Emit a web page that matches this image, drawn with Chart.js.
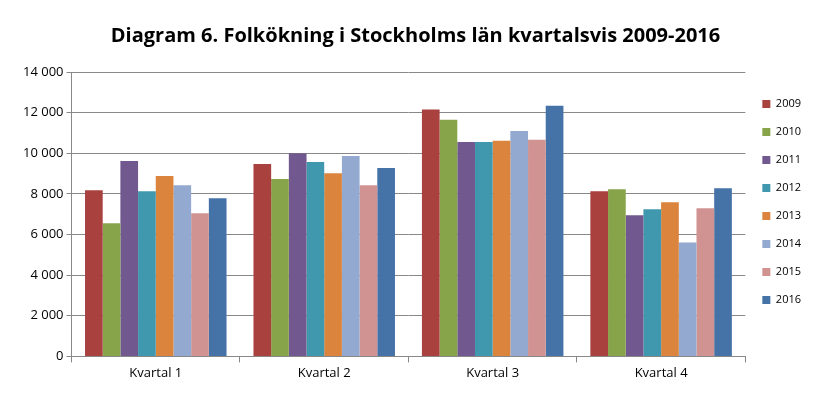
<!DOCTYPE html>
<html><head><meta charset="utf-8">
<script src="https://cdn.jsdelivr.net/npm/chart.js@4"></script>
<style>body{margin:0;background:#fff}#w{width:833px;height:400px}</style>
</head><body><div id="w"><canvas id="c"></canvas></div>
<script>
const categories=["Kvartal 1","Kvartal 2","Kvartal 3","Kvartal 4"];
const years=["2009","2010","2011","2012","2013","2014","2015","2016"];
const v2009=[8180,9470,12150,8130];
const v2010=[6550,8730,11650,8230];
const v2011=[9620,10000,10560,6950];
const v2012=[8130,9570,10560,7240];
const v2013=[8880,9010,10610,7590];
const v2014=[8430,9870,11100,5610];
const v2015=[7050,8430,10660,7290];
const v2016=[7790,9270,12340,8280];
const yTicks=[0,2000,4000,6000,8000,10000,12000,14000];
const colors=["#A9413F","#88A44A","#71588F","#4098AF","#DB843D","#93A9D0","#D09392","#4572A7"];
const series=[v2009,v2010,v2011,v2012,v2013,v2014,v2015,v2016];
const F="'Open Sans', 'Liberation Sans', sans-serif";
new Chart(document.getElementById('c'),{type:'bar',
data:{labels:categories,datasets:series.map((d,i)=>({label:years[i],data:d,backgroundColor:colors[i],categoryPercentage:0.84,barPercentage:1}))},
options:{responsive:true,maintainAspectRatio:false,animation:false,
layout:{padding:{left:20,right:22,top:20,bottom:16}},
plugins:{title:{display:true,text:'Diagram 6. Folkökning i Stockholms län kvartalsvis 2009-2016',color:'#000',font:{family:F,size:20,weight:'bold'},padding:{top:4,bottom:24}},
legend:{position:'right',labels:{boxWidth:8,boxHeight:8,padding:17,color:'#000',font:{family:F,size:11}}},tooltip:{enabled:false}},
scales:{x:{grid:{display:true,drawOnChartArea:false,offset:true,color:'#888',tickLength:6},border:{color:'#888'},ticks:{color:'#000',font:{family:F,size:13}}},
y:{min:0,max:14000,afterBuildTicks:a=>{a.ticks=yTicks.map(v=>({value:v}))},grid:{color:'#888',drawTicks:true,tickLength:5},border:{color:'#888'},
ticks:{color:'#000',font:{family:F,size:13},callback:v=>v>=1000?Math.floor(v/1000)+' '+String(v%1000).padStart(3,'0'):String(v)}}}}});
</script></body></html>
